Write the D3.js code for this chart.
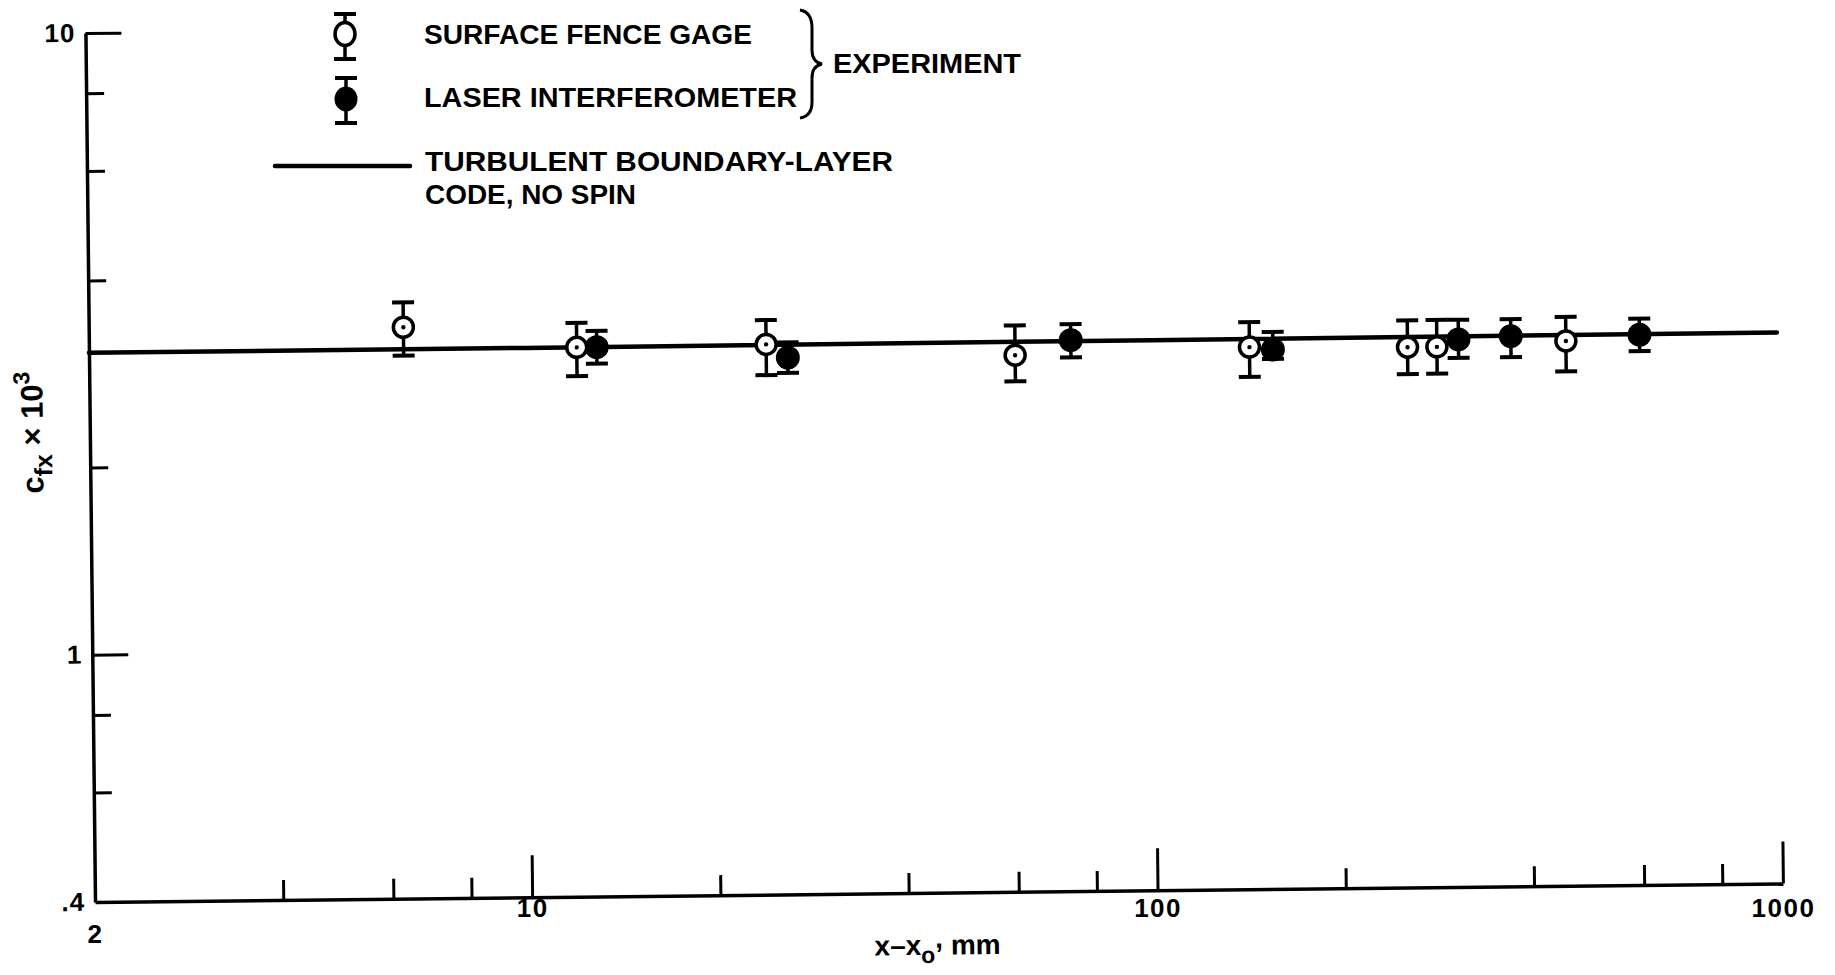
<!DOCTYPE html>
<html>
<head>
<meta charset="utf-8">
<script src="https://cdn.jsdelivr.net/npm/d3@7"></script>
<style>
  html, body { margin: 0; padding: 0; background: #fff; }
  svg { display: block; background: #fff; }
  text { font-family: "Liberation Sans", Arial, sans-serif; font-weight: bold; fill: #000; }
</style>
</head>
<body>
<svg id="chart" width="1835" height="975"></svg>
<script>
// ---------------- data ----------------
const xTickValues  = [4, 6, 8, 10, 20, 40, 60, 80, 100, 200, 400, 600, 800, 1000];
const xMajorTicks  = [10, 100, 1000];
const xLabelValues = [2, 10, 100, 1000];
const xLabelText   = ["2", "10", "100", "1000"];

const yTickValues  = [0.6, 0.8, 1, 2, 4, 6, 8, 10];
const yMajorTicks  = [1, 10];
const yLabelValues = [0.4, 1, 10];
const yLabelText   = [".4", "1", "10"];

// Surface fence gage (open symbols)
const fenceX  = [6.37, 12.05, 24.2, 60.5, 143.4, 256.6, 285.9, 459.8];
const fenceY  = [3.32, 3.06, 3.07, 2.92, 2.98, 2.96, 2.96, 3.01];
const fenceHi = [3.64, 3.35, 3.36, 3.26, 3.27, 3.27, 3.27, 3.29];
const fenceLo = [2.99, 2.75, 2.74, 2.65, 2.67, 2.68, 2.68, 2.69];

// Laser interferometer (filled symbols)
const laserX  = [12.97, 26.2, 74.3, 156.3, 309.6, 375.5, 603];
const laserY  = [3.06, 2.92, 3.08, 2.95, 3.04, 3.07, 3.07];
const laserHi = [3.25, 3.09, 3.27, 3.15, 3.27, 3.27, 3.26];
const laserLo = [2.88, 2.76, 2.89, 2.85, 2.84, 2.84, 2.89];

// Turbulent boundary-layer code, no spin
const modelX = [2, 10, 100, 1000];
const modelY = [3.06, 3.06, 3.07, 3.08];

// ---------------- drawing ----------------
const svg = d3.select("#chart");
const plotW = 1688, plotH = 869;

const x = d3.scaleLog().domain([2, 1000]).range([0, plotW]);
const y = d3.scaleLog().domain([0.4, 10]).range([0, -plotH]);

// scanned figure is slightly rotated
const g = svg.append("g").attr("transform", "translate(95,902) rotate(-0.63)");

// X axis ticks
const xAxisG = g.append("g")
  .call(d3.axisBottom(x).tickValues(xTickValues).tickSize(-20).tickSizeOuter(0).tickFormat(""));
xAxisG.selectAll(".tick line").filter(d => xMajorTicks.includes(d)).attr("y2", -42);
xAxisG.select(".domain").attr("stroke-width", 3.5);
xAxisG.selectAll(".tick line").attr("stroke-width", 3);

// X labels (hand-lettered row, not following the tilt)
const xLabG = svg.append("g").attr("transform", "translate(95,899)")
  .call(d3.axisBottom(x).tickValues(xLabelValues).tickSize(0).tickPadding(0)
        .tickFormat((d, i) => xLabelText[i]));
xLabG.select(".domain").remove();
xLabG.selectAll("text")
  .attr("font-size", 26).attr("letter-spacing", 1.5)
  .attr("font-family", "Liberation Sans, Arial, sans-serif").attr("font-weight", "bold")
  .attr("y", d => d === 2 ? 26 : 0);

// Y axis ticks
const yAxisG = g.append("g")
  .call(d3.axisLeft(y).tickValues(yTickValues).tickSize(-18).tickSizeOuter(0).tickFormat(""));
yAxisG.selectAll(".tick line").filter(d => yMajorTicks.includes(d)).attr("x2", 36);
yAxisG.select(".domain").attr("stroke-width", 3.5);
yAxisG.selectAll(".tick line").attr("stroke-width", 3);

const yLabG = g.append("g")
  .call(d3.axisLeft(y).tickValues(yLabelValues).tickSize(0).tickPadding(10)
        .tickFormat((d, i) => yLabelText[i]));
yLabG.select(".domain").remove();
yLabG.selectAll("text").attr("font-size", 26).attr("letter-spacing", 1)
  .attr("font-family", "Liberation Sans, Arial, sans-serif").attr("font-weight", "bold");

// Axis titles
const xt = g.append("text").attr("x", 842).attr("y", 62).attr("text-anchor", "middle").attr("font-size", 28);
xt.append("tspan").text("x\u2013x");
xt.append("tspan").attr("dy", 8).attr("font-size", 23).text("o");
xt.append("tspan").attr("dy", -15).text(",");
xt.append("tspan").attr("dy", 7).text(" mm");

const yt = g.append("text").attr("transform", "translate(-47,-470) rotate(-90)")
  .attr("text-anchor", "middle").attr("font-size", 31);
yt.append("tspan").text("c");
yt.append("tspan").attr("dy", 9).attr("font-size", 25).text("fx");
yt.append("tspan").attr("dy", -9).text(" \u00D7 10");
yt.append("tspan").attr("dy", -13).attr("font-size", 23).text("3");

// Model line
const line = d3.line().x((d, i) => x(modelX[i])).y((d, i) => y(modelY[i]));
g.append("path").datum(modelY).attr("d", line)
  .attr("fill", "none").attr("stroke", "#000").attr("stroke-width", 4.5).attr("stroke-linecap", "round");

// Error bars + symbols
function drawSeries(xs, ys, lo, hi, filled) {
  const sg = g.append("g");
  const pts = xs.map((v, i) => ({x: v, y: ys[i], lo: lo[i], hi: hi[i]}));
  const grp = sg.selectAll("g.pt").data(pts).enter().append("g").attr("class", "pt");
  grp.append("line").attr("x1", d => x(d.x)).attr("x2", d => x(d.x))
    .attr("y1", d => y(d.lo)).attr("y2", d => y(d.hi)).attr("stroke", "#000").attr("stroke-width", 3.5);
  grp.append("line").attr("x1", d => x(d.x) - 11).attr("x2", d => x(d.x) + 11)
    .attr("y1", d => y(d.hi)).attr("y2", d => y(d.hi)).attr("stroke", "#000").attr("stroke-width", 4);
  grp.append("line").attr("x1", d => x(d.x) - 11).attr("x2", d => x(d.x) + 11)
    .attr("y1", d => y(d.lo)).attr("y2", d => y(d.lo)).attr("stroke", "#000").attr("stroke-width", 4);
  if (filled) {
    grp.append("circle").attr("cx", d => x(d.x)).attr("cy", d => y(d.y)).attr("r", 12).attr("fill", "#000");
  } else {
    grp.append("circle").attr("cx", d => x(d.x)).attr("cy", d => y(d.y)).attr("r", 10)
      .attr("fill", "#fff").attr("stroke", "#000").attr("stroke-width", 3.5);
    grp.append("circle").attr("cx", d => x(d.x)).attr("cy", d => y(d.y)).attr("r", 2.2).attr("fill", "#000");
  }
}
drawSeries(laserX, laserY, laserLo, laserHi, true);
drawSeries(fenceX, fenceY, fenceLo, fenceHi, false);

// ---------------- legend ----------------
const lg = svg.append("g");
// open symbol
lg.append("line").attr("x1", 345).attr("x2", 345).attr("y1", 14).attr("y2", 59).attr("stroke", "#000").attr("stroke-width", 3.5);
lg.append("line").attr("x1", 334).attr("x2", 356).attr("y1", 14).attr("y2", 14).attr("stroke", "#000").attr("stroke-width", 4);
lg.append("line").attr("x1", 334).attr("x2", 356).attr("y1", 59).attr("y2", 59).attr("stroke", "#000").attr("stroke-width", 4);
lg.append("ellipse").attr("cx", 345).attr("cy", 34).attr("rx", 10).attr("ry", 11.5).attr("fill", "#fff").attr("stroke", "#000").attr("stroke-width", 3.5);
// filled symbol
lg.append("line").attr("x1", 346).attr("x2", 346).attr("y1", 78).attr("y2", 123).attr("stroke", "#000").attr("stroke-width", 3.5);
lg.append("line").attr("x1", 335).attr("x2", 357).attr("y1", 78).attr("y2", 78).attr("stroke", "#000").attr("stroke-width", 4);
lg.append("line").attr("x1", 335).attr("x2", 357).attr("y1", 123).attr("y2", 123).attr("stroke", "#000").attr("stroke-width", 4);
lg.append("ellipse").attr("cx", 346).attr("cy", 99).attr("rx", 11.5).attr("ry", 12.5).attr("fill", "#000");
// line symbol
lg.append("line").attr("x1", 275).attr("x2", 410).attr("y1", 166).attr("y2", 166).attr("stroke", "#000").attr("stroke-width", 4.5).attr("stroke-linecap", "round");
// brace
lg.append("path").attr("d", "M800,10 Q812,12 812,28 L812,50 Q812,62 822,64 Q812,66 812,78 L812,102 Q812,116 800,118")
  .attr("fill", "none").attr("stroke", "#000").attr("stroke-width", 3);

const legendText = [
  {t: "SURFACE FENCE GAGE", x: 424, y: 44, w: 328},
  {t: "LASER INTERFEROMETER", x: 424, y: 107, w: 373},
  {t: "EXPERIMENT", x: 833, y: 73, w: 188},
  {t: "TURBULENT BOUNDARY-LAYER", x: 425, y: 171, w: 468},
  {t: "CODE, NO SPIN", x: 425, y: 204, w: 211}
];
lg.selectAll("text.leg").data(legendText).enter().append("text").attr("class", "leg")
  .attr("x", d => d.x).attr("y", d => d.y).attr("font-size", 27)
  .attr("textLength", d => d.w).attr("lengthAdjust", "spacingAndGlyphs")
  .text(d => d.t);
</script>
</body>
</html>
